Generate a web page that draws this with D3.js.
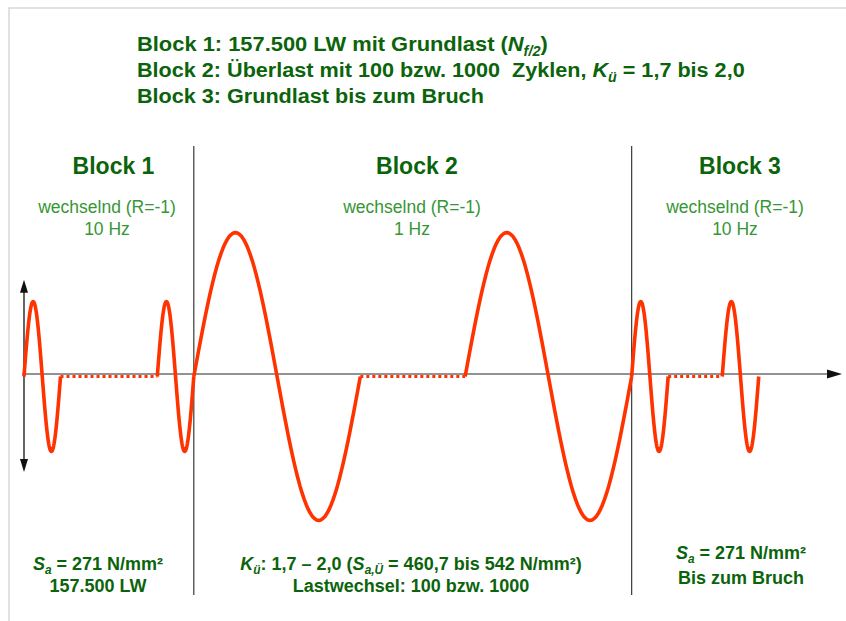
<!DOCTYPE html>
<html><head><meta charset="utf-8">
<script src="https://cdn.jsdelivr.net/npm/d3@7"></script>
<style>
html,body{margin:0;padding:0;background:#fff;}
svg{display:block;font-family:"Liberation Sans",Arial,sans-serif;}
</style></head><body>
<svg id="chart" width="846" height="621"></svg>
<script>
// ---------------- data ----------------
// rich text parts: n = normal, i = italic, s = italic subscript
const titleLine1 = [["Block 1: 157.500 LW mit Grundlast (", "n"], ["N", "i"], ["f/2", "s"], [")", "n"]];
const titleLine2 = [["Block 2: Überlast mit 100 bzw. 1000  Zyklen, ", "n"], ["K", "i"], ["ü", "s"], [" = 1,7 bis 2,0", "n"]];
const titleLine3 = [["Block 3: Grundlast bis zum Bruch", "n"]];

const blockNames = ["Block 1", "Block 2", "Block 3"];
const loadModes = ["wechselnd (R=-1)", "wechselnd (R=-1)", "wechselnd (R=-1)"];
const frequencies = ["10 Hz", "1 Hz", "10 Hz"];
const amplitudes = [271, 520, 271];           // N/mm², stress amplitude per block (schematic)

const bottomLine1 = [
  [["S", "i"], ["a", "s"], [" = 271 N/mm²", "n"]],
  [["K", "i"], ["ü", "s"], [": 1,7 – 2,0 (", "n"], ["S", "i"], ["a,Ü", "s"], [" = 460,7 bis 542 N/mm²)", "n"]],
  [["S", "i"], ["a", "s"], [" = 271 N/mm²", "n"]]
];
const bottomLine2 = ["157.500 LW", "Lastwechsel: 100 bzw. 1000", "Bis zum Bruch"];

// load sequence (relative drawing time units)
const segBlock    = [0, 0, 0, 1, 1, 1, 2, 2, 2];
const segKind     = ["cycle", "pause", "cycle", "cycle", "pause", "cycle", "cycle", "pause", "cycle"];
const segDuration = [1, 2.65, 1, 4.56, 2.87, 4.56, 1, 1.48, 1];
const yAxisExtent = [350, -345];

// ---------------- layout / style ----------------
const W = 846, H = 621;
const darkGreen = "#0b640b", lightGreen = "#369636", red = "#ff3300";
const svg = d3.select("#chart");

const x = d3.scaleLinear().domain([0, 22.4]).range([24, 842]);
const y = d3.scaleLinear().domain([-600, 600]).range([542.5, 210.5]);

// frame (top and left hairlines)
svg.append("path").attr("d", `M9,${H} V8 H${W}`).attr("fill", "none")
  .attr("stroke", "#d8d8d8").attr("stroke-width", 1.5);

// build segments with cumulative time
let t = 0;
const segs = segDuration.map((d, i) => {
  const s = {t0: t, t1: t + d, kind: segKind[i], block: segBlock[i], amp: amplitudes[segBlock[i]]};
  t += d; return s;
});

// block boundaries
const boundaries = [];
for (let i = 1; i < segs.length; i++) if (segs[i].block !== segs[i - 1].block) boundaries.push(segs[i].t0);
svg.selectAll("line.div").data(boundaries).join("line").attr("class", "div")
  .attr("x1", d => x(d)).attr("x2", d => x(d)).attr("y1", 146).attr("y2", 595)
  .attr("stroke", "#3a3a3a").attr("stroke-width", 1.2);

// horizontal axis
const y0 = 374;
svg.append("line").attr("x1", x(0) - 2).attr("x2", x(22.4) - 10).attr("y1", y0).attr("y2", y0)
  .attr("stroke", "#6e6e6e").attr("stroke-width", 1.6);
svg.append("path").attr("d", `M${x(22.4)},${y0} l-15,-4.5 v9 z`).attr("fill", "#111");

// vertical axis with double arrow
const yt = y(yAxisExtent[0]), yb = y(yAxisExtent[1]);
svg.append("line").attr("x1", x(0)).attr("x2", x(0)).attr("y1", yt + 8).attr("y2", yb - 8)
  .attr("stroke", "#111").attr("stroke-width", 1.3);
svg.append("path").attr("d", `M${x(0)},${yt} l-4,13 h8 z`).attr("fill", "#111");
svg.append("path").attr("d", `M${x(0)},${yb} l-4,-13 h8 z`).attr("fill", "#111");

// waveform
const line = d3.line().x(d => x(d[0])).y(d => y(d[1]));
const N = 80;
segs.forEach(s => {
  if (s.kind === "cycle") {
    const pts = d3.range(N + 1).map(i => [s.t0 + (s.t1 - s.t0) * i / N, s.amp * Math.sin(2 * Math.PI * i / N)]);
    svg.append("path").attr("d", line(pts)).attr("fill", "none").attr("stroke", red)
      .attr("stroke-width", 3.6).attr("stroke-linejoin", "round").attr("stroke-linecap", "butt");
  } else {
    svg.append("path").attr("d", line([[s.t0, 0], [s.t1, 0]])).attr("fill", "none").attr("stroke", red)
      .attr("stroke-width", 3).attr("stroke-dasharray", "3,3");
  }
});

// rich text helper
function richText(x0, yb, parts, o) {
  const tx = svg.append("text").attr("x", x0).attr("y", yb).attr("text-anchor", o.anchor || "start")
    .attr("fill", o.color).style("font-size", o.size + "px").style("font-weight", o.weight || "bold")
    .style("white-space", "pre");
  let shift = 0;
  parts.forEach(([str, k]) => {
    const ts = tx.append("tspan").text(str);
    if (k === "i" || k === "s") ts.style("font-style", "italic");
    if (k === "s") {
      const sh = Math.round(o.size * 0.22);
      ts.style("font-size", (o.size * 0.66) + "px").attr("dy", sh); shift = sh;
    } else if (shift) { ts.attr("dy", -shift); shift = 0; }
  });
  if (o.width) {
    const w = tx.node().getComputedTextLength();
    const sc = o.width / w;
    tx.attr("transform", `translate(${x0},0) scale(${sc},1) translate(${-x0},0)`);
  }
  return tx;
}

// titles
[titleLine1, titleLine2, titleLine3].forEach((p, i) => {
  richText(137, [51, 77, 103][i], p, {size: 21, color: darkGreen, width: [411, 608, 347][i]});
});

// block headers
const headX = [113.5, 417, 740], subX = [107, 412, 735];
blockNames.forEach((b, i) => {
  svg.append("text").attr("x", headX[i]).attr("y", 174).attr("text-anchor", "middle")
    .attr("fill", darkGreen).style("font-size", "23px").style("font-weight", "bold").text(b);
  svg.append("text").attr("x", subX[i]).attr("y", 213).attr("text-anchor", "middle")
    .attr("fill", lightGreen).style("font-size", "17.5px").text(loadModes[i]);
  svg.append("text").attr("x", subX[i]).attr("y", 235).attr("text-anchor", "middle")
    .attr("fill", lightGreen).style("font-size", "17.5px").text(frequencies[i]);
});

// bottom texts
const botX = [98, 411, 741], botY1 = [570, 570, 559], botY2 = [592, 592, 584];
bottomLine1.forEach((p, i) => richText(botX[i], botY1[i], p, {size: 18, color: darkGreen, anchor: "middle"}));
bottomLine2.forEach((s, i) => {
  svg.append("text").attr("x", botX[i]).attr("y", botY2[i]).attr("text-anchor", "middle")
    .attr("fill", darkGreen).style("font-size", "18px").style("font-weight", "bold").text(s);
});
</script>
</body></html>
